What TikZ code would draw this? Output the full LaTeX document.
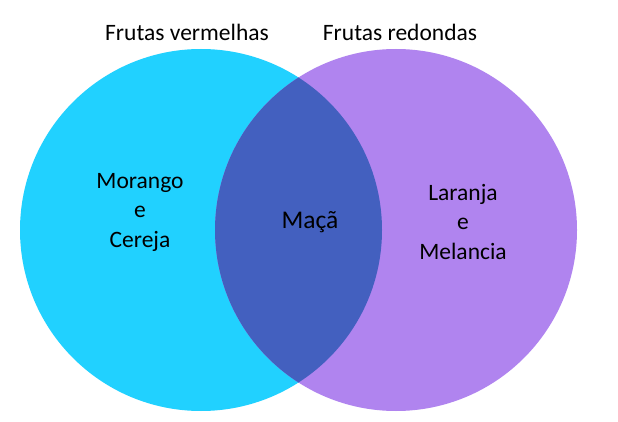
\documentclass[tikz,border=0pt]{standalone}
\usepackage{fontspec}
\setmainfont{Carlito}
\usepackage{tikz}
\usetikzlibrary{positioning}
\definecolor{vermelhas}{HTML}{21D1FF}
\definecolor{redondas}{HTML}{B084EF}
\definecolor{ambas}{HTML}{4360BF}

\begin{document}
\begin{tikzpicture}[x=1pt,y=1pt,
  titulo/.style={font=\fontsize{23.5}{28}\selectfont},
  fruta/.style={font=\fontsize{23.5}{29.5}\selectfont,align=center}]
  \useasboundingbox[fill=white] (0,0) rectangle (618,-422);

  \coordinate (C1) at (201,-230);
  \coordinate (C2) at (396,-230);

  \fill[vermelhas] (C1) circle (181);
  \fill[redondas] (C2) circle (181);
  \begin{scope}
    \clip (C1) circle (181);
    \fill[ambas] (C2) circle (181);
  \end{scope}

  \node[titulo] (tv) at (187,-32) {Frutas vermelhas};
  \node[titulo] (tr) at (400,-32) {Frutas redondas};

  \node[fruta] (esq) at (140,-212) {Morango\\e\\Cereja};
  \node[fruta,font=\fontsize{25.5}{29}\selectfont] (meio) at (310,-222) {Maçã};
  \node[fruta] (dir) at (463,-222) {Laranja\\e\\Melancia};
\end{tikzpicture}
\end{document}
